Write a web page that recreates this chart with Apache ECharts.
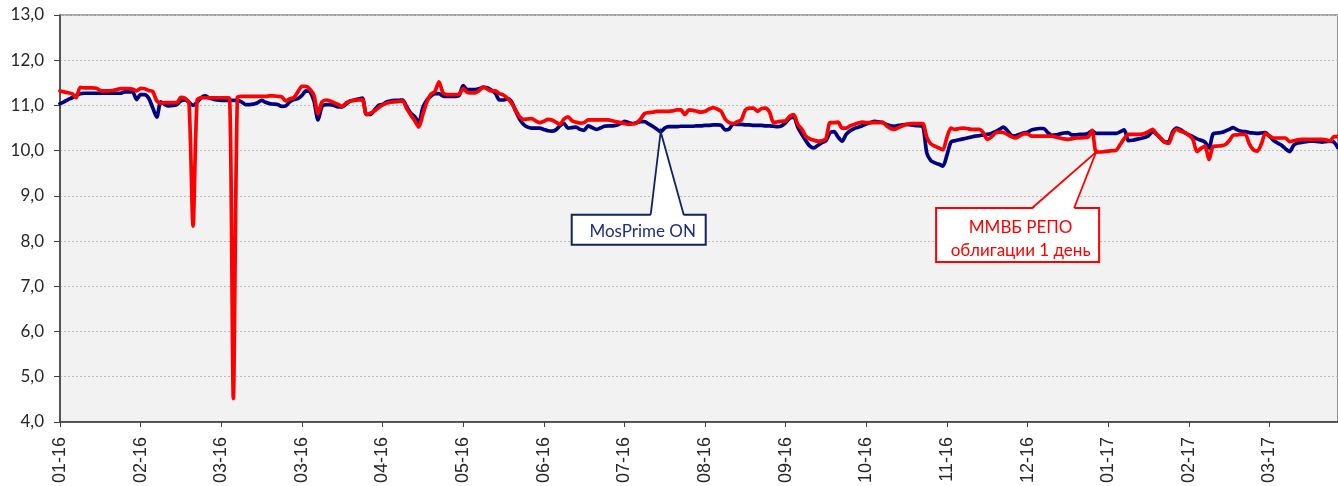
<!DOCTYPE html>
<html><head><meta charset="utf-8">
<script src="https://cdn.jsdelivr.net/npm/echarts@6/dist/echarts.min.js"></script>
<style>html,body{margin:0;padding:0;background:#fff}#c{width:1338px;height:486px}</style>
</head><body><div id="c"></div>
<script>
const tickLabels = ['01-16','02-16','03-16','03-16','04-16','05-16','06-16','07-16','08-16','09-16','10-16','11-16','12-16','01-17','02-17','03-17'];
const TICK_STEP = 20;

const mosPrime = [
11.04,11.08,11.13,11.17,11.22,11.26,11.27,11.27,11.27,11.27,
11.27,11.27,11.27,11.27,11.27,11.27,11.30,11.30,11.30,11.13,
11.24,11.24,11.16,10.95,10.74,11.08,11.02,10.99,11.00,11.02,
11.10,11.12,11.07,11.00,11.07,11.17,11.21,11.17,11.14,11.12,
11.11,11.11,11.11,11.11,11.11,11.08,11.02,11.02,11.03,11.06,
11.11,11.07,11.04,11.03,11.02,10.98,10.99,11.08,11.13,11.15,
11.22,11.32,11.30,11.10,10.68,10.98,11.02,11.02,11.00,10.97,
10.97,11.03,11.10,11.12,11.14,11.16,10.80,10.80,10.90,11.00,
11.02,11.08,11.10,11.11,11.11,11.12,10.97,10.83,10.75,10.62,
10.95,11.12,11.21,11.26,11.26,11.21,11.20,11.20,11.20,11.22,
11.44,11.35,11.35,11.35,11.37,11.40,11.39,11.34,11.27,11.12,
11.12,11.15,11.08,10.88,10.70,10.58,10.52,10.50,10.50,10.50,
10.47,10.44,10.43,10.46,10.55,10.60,10.50,10.51,10.52,10.47,
10.45,10.55,10.51,10.47,10.50,10.54,10.55,10.55,10.56,10.60,
10.65,10.62,10.60,10.62,10.64,10.64,10.59,10.54,10.48,10.42,
10.50,10.53,10.53,10.53,10.54,10.54,10.54,10.54,10.55,10.55,
10.56,10.56,10.57,10.57,10.56,10.46,10.48,10.59,10.58,10.58,
10.57,10.57,10.56,10.56,10.56,10.55,10.55,10.54,10.53,10.55,
10.62,10.72,10.74,10.52,10.36,10.22,10.10,10.06,10.12,10.18,
10.22,10.40,10.42,10.30,10.21,10.36,10.44,10.49,10.52,10.55,
10.59,10.62,10.65,10.64,10.62,10.58,10.55,10.54,10.56,10.57,
10.58,10.57,10.56,10.55,10.54,9.95,9.78,9.73,9.70,9.66,
9.90,10.19,10.22,10.24,10.26,10.28,10.30,10.32,10.33,10.35,
10.36,10.38,10.42,10.47,10.52,10.44,10.34,10.33,10.36,10.39,
10.41,10.46,10.48,10.49,10.49,10.40,10.34,10.35,10.37,10.39,
10.40,10.35,10.35,10.36,10.36,10.38,10.44,10.38,10.38,10.38,
10.38,10.38,10.38,10.42,10.46,10.22,10.23,10.25,10.27,10.29,
10.33,10.42,10.36,10.27,10.19,10.20,10.42,10.50,10.46,10.40,
10.35,10.31,10.26,10.23,10.19,10.06,10.37,10.39,10.40,10.43,
10.47,10.51,10.46,10.43,10.42,10.40,10.39,10.38,10.39,10.40,
10.32,10.23,10.17,10.12,10.04,9.98,10.12,10.17,10.18,10.20,
10.21,10.21,10.20,10.19,10.20,10.21,10.19,10.06
];

const repo = [
11.32,11.30,11.28,11.26,11.17,11.40,11.39,11.39,11.39,11.38,
11.33,11.32,11.32,11.33,11.35,11.37,11.37,11.37,11.36,11.32,
11.38,11.37,11.33,11.31,11.10,11.05,11.06,11.06,11.06,11.06,
11.18,11.16,11.05,8.33,11.12,11.17,11.17,11.17,11.17,11.17,
11.17,11.17,11.17,4.52,11.18,11.20,11.20,11.20,11.20,11.20,
11.20,11.20,11.21,11.21,11.20,11.19,11.10,11.15,11.17,11.30,
11.42,11.42,11.36,11.22,10.82,11.08,11.12,11.10,11.06,11.02,
10.98,11.06,11.10,11.11,11.12,11.13,10.80,10.83,10.88,10.95,
11.01,11.05,11.07,11.08,11.09,11.10,10.93,10.79,10.66,10.52,
10.80,11.08,11.25,11.31,11.52,11.28,11.24,11.24,11.24,11.25,
11.37,11.29,11.28,11.28,11.33,11.41,11.36,11.32,11.32,11.26,
11.23,11.16,11.05,10.90,10.75,10.69,10.70,10.71,10.66,10.62,
10.65,10.69,10.68,10.63,10.58,10.70,10.75,10.66,10.63,10.61,
10.62,10.68,10.68,10.68,10.68,10.68,10.68,10.66,10.64,10.62,
10.60,10.58,10.59,10.61,10.70,10.82,10.84,10.85,10.87,10.87,
10.87,10.87,10.88,10.90,10.90,10.80,10.90,10.89,10.87,10.85,
10.87,10.92,10.95,10.92,10.87,10.70,10.62,10.60,10.64,10.68,
10.90,10.94,10.94,10.87,10.93,10.94,10.85,10.62,10.64,10.65,
10.66,10.76,10.80,10.58,10.47,10.32,10.26,10.23,10.21,10.22,
10.27,10.62,10.62,10.63,10.50,10.50,10.55,10.58,10.61,10.63,
10.62,10.62,10.62,10.62,10.63,10.55,10.49,10.47,10.51,10.55,
10.58,10.60,10.60,10.60,10.60,10.30,10.15,10.10,10.06,10.02,
10.30,10.50,10.47,10.49,10.50,10.49,10.47,10.47,10.47,10.40,
10.25,10.30,10.39,10.41,10.40,10.36,10.31,10.28,10.32,10.37,
10.37,10.32,10.32,10.32,10.32,10.32,10.32,10.30,10.28,10.26,
10.25,10.26,10.28,10.28,10.29,10.30,10.45,9.97,9.97,9.98,
9.99,10.00,10.01,10.14,10.27,10.36,10.36,10.36,10.36,10.38,
10.42,10.47,10.37,10.28,10.19,10.16,10.38,10.47,10.43,10.40,
10.34,10.25,9.98,10.05,10.10,9.80,10.09,10.10,10.11,10.13,
10.22,10.34,10.35,10.36,10.36,10.15,10.02,9.99,10.15,10.38,
10.32,10.28,10.28,10.28,10.28,10.20,10.22,10.24,10.25,10.25,
10.25,10.25,10.25,10.25,10.24,10.21,10.31,10.31
];

const seriesNames = ['MosPrime ON', 'ММВБ РЕПО облигации 1 день'];
const categories = mosPrime.map((_, i) => String(i));

const chart = echarts.init(document.getElementById('c'), null, {renderer: 'canvas'});
const FONT = 'Lato, "Open Sans", sans-serif';

chart.setOption({
  animation: false,
  backgroundColor: '#ffffff',
  grid: {left: 60, right: 0, top: 15, bottom: 64, show: true, backgroundColor: '#F2F2F2', borderColor: '#4D4D4D', borderWidth: 1.2},
  xAxis: {
    type: 'category', data: categories, boundaryGap: false,
    axisLine: {lineStyle: {color: '#404040', width: 1.5}},
    axisTick: {show: true, interval: TICK_STEP - 1, length: 5, lineStyle: {color: '#404040', width: 1}},
    axisLabel: {interval: TICK_STEP - 1, rotate: 90, margin: 15, fontSize: 18, color: '#262626', fontFamily: '"Liberation Sans", Arial, sans-serif',
      formatter: (v, idx) => tickLabels[Math.round(idx / TICK_STEP)] || ''},
    splitLine: {show: false}
  },
  yAxis: {
    type: 'value', min: 4, max: 13, interval: 1,
    axisLine: {show: true, lineStyle: {color: '#404040', width: 1.5}},
    axisTick: {show: true, length: 6, lineStyle: {color: '#404040'}},
    axisLabel: {margin: 16, fontSize: 17, color: '#262626', fontFamily: FONT, formatter: v => v.toFixed(1).replace('.', ',')},
    splitLine: {show: true, lineStyle: {color: '#BDBDBD', width: 1, type: [2, 2]}}
  },
  series: [
    {name: seriesNames[0], type: 'line', data: mosPrime, symbol: 'none', smooth: 0.25, lineStyle: {color: '#000080', width: 3.7, cap: 'round', join: 'round'}, z: 2},
    {name: seriesNames[1], type: 'line', data: repo, symbol: 'none', smooth: 0.25, lineStyle: {color: '#FF0000', width: 3.7, cap: 'round', join: 'round'}, z: 3}
  ]
});

function callout(seriesIdx, dataIdx, values, o) {
  const p = chart.convertToPixel({seriesIndex: seriesIdx}, [dataIdx, values[dataIdx]]);
  const ax = p[0], ay = p[1];
  const bx = ax + o.dx, by = ay + o.dy;
  return [
    {type: 'rect', z: 100, shape: {x: bx, y: by, width: o.w, height: o.h}, style: {fill: '#fff', stroke: o.border, lineWidth: 2}},
    {type: 'polygon', z: 101, shape: {points: [[ax, ay], [ax + o.b1, by + 1.5], [ax + o.b2, by + 1.5]]}, style: {fill: '#fff'}},
    {type: 'polyline', z: 102, shape: {points: [[ax + o.b1, by], [ax, ay], [ax + o.b2, by]]}, style: {stroke: o.border, lineWidth: 1.8, fill: null}},
    {type: 'text', z: 103, style: {x: bx + o.w / 2 + o.tx, y: by + o.h / 2 + o.ty, text: o.text, fill: o.color, font: '17px ' + FONT, align: 'center', verticalAlign: 'middle', lineHeight: 23}}
  ];
}

chart.setOption({
  graphic: [].concat(
    callout(0, 149, mosPrime, {dx: -89, dy: 83, w: 134, h: 30, b1: -10, b2: 23, tx: 4, ty: 2, border: '#12235E', color: '#1E2C84', text: 'MosPrime ON'}),
    callout(1, 257, repo, {dx: -160, dy: 56, w: 163, h: 54, b1: -64, b2: -22, tx: 3, ty: 4, border: '#FF0000', color: '#FF0000', text: 'ММВБ РЕПО\nоблигации 1 день'})
  )
});
</script>
</body></html>
